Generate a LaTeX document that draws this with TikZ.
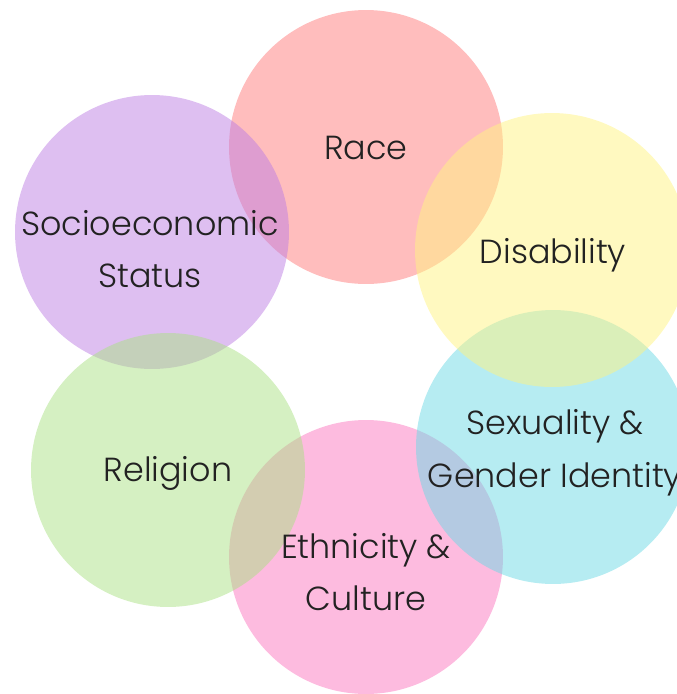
\documentclass[tikz,border=0pt]{standalone}
\usepackage{fontspec}
\setmainfont{Poppins}[UprightFont=* Light]
\usetikzlibrary{positioning}
\definecolor{racecol}{HTML}{FF7B7B}
\definecolor{discol}{HTML}{FFF381}
\definecolor{sexcol}{HTML}{6DD9E5}
\definecolor{ethcol}{HTML}{FB77BF}
\definecolor{relcol}{HTML}{ABE185}
\definecolor{sescol}{HTML}{BD7FE3}
\definecolor{inkcol}{HTML}{222222}
\tikzstyle{topic} = [circle,minimum size=5.48cm,inner sep=0pt,fill opacity=0.5]
\tikzstyle{word} = [align=center,text=inkcol,font=\fontsize{19}{30}\selectfont]

\begin{document}
\begin{tikzpicture}[x=0.02cm,y=-0.02cm]
				\useasboundingbox (0,0) rectangle (677,694);
				\node (race) [topic,fill=racecol] at (366,147) {};
				\node (eth) [topic,fill=ethcol] at (366,557) {};
				\node (sex) [topic,fill=sexcol] at (553,447) {};
				\node (dis) [topic,fill=discol] at (552,250) {};
				\node (ses) [topic,fill=sescol] at (152,232) {};
				\node (rel) [topic,fill=relcol] at (168,470) {};
				\node (racetxt) [word] at (366,148) {Race};
				\node (distxt) [word] at (553,255) {Disability};
				\node (sextxt) [word] at (555,453) {Sexuality \&\\Gender Identity};
				\node (ethtxt) [word] at (366,572) {Ethnicity \&\\Culture};
				\node (reltxt) [word] at (168,473) {Religion};
				\node (sestxt) [word] at (150,249) {Socioeconomic\\Status};
			\end{tikzpicture}
\end{document}
